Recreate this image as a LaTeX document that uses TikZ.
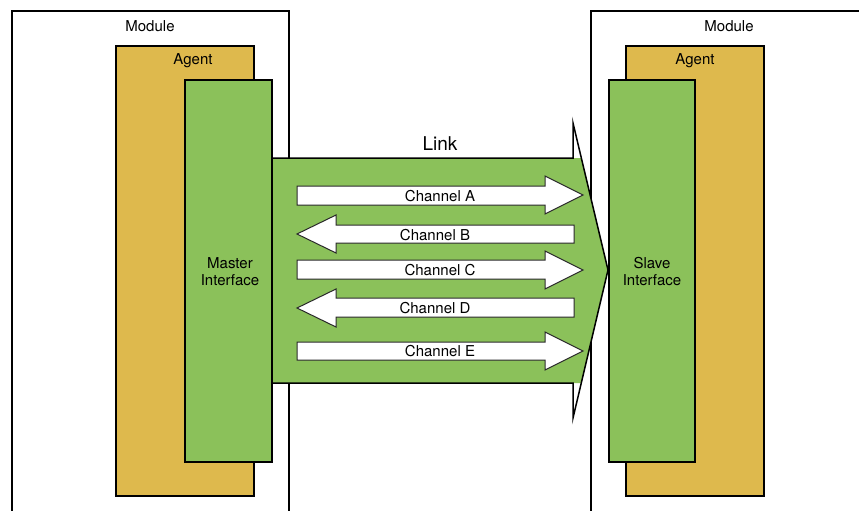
\documentclass[tikz,border=0pt]{standalone}
\usepackage{fontspec}
\setmainfont{TeX Gyre Heros}
\definecolor{agentyellow}{RGB}{222,185,77}
\definecolor{ifgreen}{RGB}{139,193,90}
\definecolor{edgegray}{RGB}{40,40,40}
\tikzset{
  modulebox/.style={draw=black,line width=2pt},
  agentbox/.style={draw=black,fill=agentyellow,line width=2pt},
  ifbox/.style={draw=black,fill=ifgreen,line width=2.5pt},
  chanarrow/.style={draw=edgegray,fill=white,line width=1pt,line join=miter},
  lbl/.style={font=\fontsize{15}{17}\selectfont,align=center,inner sep=0pt},
  linklbl/.style={font=\fontsize{19}{22}\selectfont,inner sep=0pt},
}
\begin{document}
\begin{tikzpicture}[x=1pt,y=-1pt]
\useasboundingbox (0,0) rectangle (859,511);
\clip (0,0) rectangle (859,511);
\fill[white] (0,0) rectangle (859,511);
% modules
\draw[modulebox] (12,530) |- (289,11) -- (289,530);
\draw[modulebox] (591,530) |- (880,11) -- (880,530);
\node[lbl] (modL) at (150,26) {Module};
\node[lbl] (modR) at (729,26) {Module};
% agents
\draw[agentbox] (116,46) rectangle (254,496);
\draw[agentbox] (626,46) rectangle (764,496);
\node[lbl] (agL) at (193,61) {Agent};
\node[lbl] (agR) at (695,61) {Agent};
% interfaces
\draw[ifbox] (185,80) rectangle (272,462);
\node[lbl] (master) at (230,272) {Master\\Interface};
% link
\fill[ifgreen] (273,158) -- (581.4,158) -- (608,270) -- (581.4,383) -- (273,383) -- cycle;
\draw[black,line width=1.5pt,line join=miter] (273,158) -- (573,158) -- (573,123) -- (608,270) -- (573,418) -- (573,383) -- (273,383);
\node[linklbl] (link) at (440,144) {Link};
\draw[ifbox] (609,80) rectangle (695,462);
\node[lbl] (slave) at (652,272) {Slave\\Interface};
% channels
\draw[chanarrow] (297,186) -- (545,186) -- (545,176) -- (583,195) -- (545,214) -- (545,205) -- (297,205) -- cycle;
\node[lbl] (chA) at (440,196) {Channel A};
\draw[chanarrow] (574,225) -- (336,225) -- (336,215) -- (297,234) -- (336,253) -- (336,243) -- (574,243) -- cycle;
\node[lbl] (chB) at (435,235) {Channel B};
\draw[chanarrow] (297,260) -- (545,260) -- (545,251) -- (583,270) -- (545,289) -- (545,279) -- (297,279) -- cycle;
\node[lbl] (chC) at (440,270) {Channel C};
\draw[chanarrow] (574,298) -- (336,298) -- (336,289) -- (297,308) -- (336,327) -- (336,317) -- (574,317) -- cycle;
\node[lbl] (chD) at (435,308) {Channel D};
\draw[chanarrow] (297,342) -- (545,342) -- (545,332) -- (583,351) -- (545,370) -- (545,360) -- (297,360) -- cycle;
\node[lbl] (chE) at (440,351) {Channel E};
\end{tikzpicture}
\end{document}
